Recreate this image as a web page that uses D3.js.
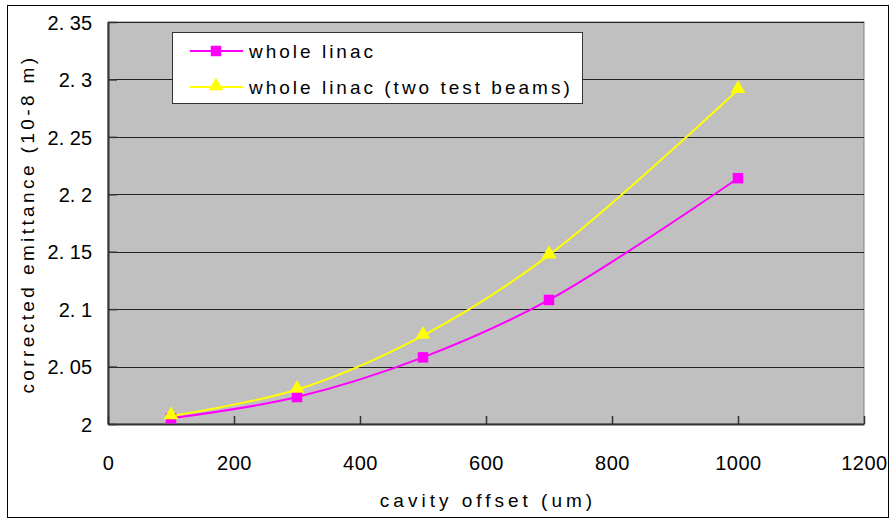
<!DOCTYPE html>
<html>
<head>
<meta charset="utf-8">
<script src="https://cdn.jsdelivr.net/npm/d3@7"></script>
<style>
  html, body { margin: 0; padding: 0; background: #fff; }
  text { font-family: "Liberation Sans", Arial, sans-serif; fill: #000; }
</style>
</head>
<body>
<svg id="chart" width="894" height="522"></svg>
<script>
// Cavity offset (um) and corrected emittance (10^-8 m)
const offsets = [100, 300, 500, 700, 1000];
const wholeLinac = [2.005, 2.0235, 2.058, 2.108, 2.214];
const twoTestBeams = [2.007, 2.030, 2.077, 2.147, 2.291];
const xTicks = [0, 200, 400, 600, 800, 1000, 1200];
const yTicks = [2, 2.05, 2.1, 2.15, 2.2, 2.25, 2.3, 2.35];
const seriesNames = ["whole linac", "whole linac (two test beams)"];

const svg = d3.select("#chart");
const W = 894, H = 522;
const plot = { left: 108, right: 864, top: 22, bottom: 424 };

// outer frame
svg.append("rect").attr("x", 7.5).attr("y", 5.5).attr("width", W - 13).attr("height", H - 10)
  .attr("fill", "#fff").attr("stroke", "#000").attr("stroke-width", 1);

const x = d3.scaleLinear().domain([0, 1200]).range([plot.left, plot.right]);
const y = d3.scaleLinear().domain([2, 2.35]).range([plot.bottom, plot.top]);

// plot background
svg.append("rect").attr("x", plot.left).attr("y", plot.top)
  .attr("width", plot.right - plot.left).attr("height", plot.bottom - plot.top)
  .attr("fill", "#c0c0c0").attr("stroke", "#808080").attr("stroke-width", 1);

// horizontal gridlines
svg.append("g").selectAll("line").data(yTicks.slice(1)).join("line")
  .attr("x1", plot.left).attr("x2", plot.right)
  .attr("y1", d => Math.round(y(d)) + 0.5).attr("y2", d => Math.round(y(d)) + 0.5)
  .attr("stroke", "#222").attr("stroke-width", 1);

// x axis (ticks point into the plot)
const xAxis = svg.append("g").attr("transform", `translate(0,${plot.bottom})`)
  .call(d3.axisBottom(x).tickValues(xTicks).tickSizeInner(-8).tickSizeOuter(0).tickPadding(32).tickFormat(d3.format("d")));
xAxis.select(".domain").attr("stroke", "#333").attr("stroke-width", 2);
xAxis.selectAll(".tick line").attr("stroke", "#333").attr("stroke-width", 1.5);
xAxis.selectAll("text").attr("font-size", 20).attr("font-family", "Liberation Sans, Arial, sans-serif")
  .attr("letter-spacing", "0.5px");

// y axis (ticks point into the plot)
const yAxis = svg.append("g").attr("transform", `translate(${plot.left},0)`)
  .call(d3.axisLeft(y).tickValues(yTicks).tickSizeInner(-9).tickSizeOuter(0).tickPadding(16)
    .tickFormat(d => d3.format("")(+d.toFixed(2)).replace(".", ". ")));
yAxis.select(".domain").attr("stroke", "#333").attr("stroke-width", 2);
yAxis.selectAll(".tick line").attr("stroke", "#333").attr("stroke-width", 1.5);
yAxis.selectAll("text").attr("font-size", 20).attr("font-family", "Liberation Sans, Arial, sans-serif")
  .attr("dy", "0.36em");

// axis titles
svg.append("text").attr("x", 488).attr("y", 507).attr("text-anchor", "middle")
  .attr("font-size", 19).attr("letter-spacing", "4px").text("cavity offset (um)");
svg.append("text").attr("transform", "translate(34,224) rotate(-90)").attr("text-anchor", "middle")
  .attr("font-size", 19).attr("letter-spacing", "3.4px").text("corrected emittance (10-8 m)");

// series lines
const line = d3.line().x(d => x(d[0])).y(d => y(d[1])).curve(d3.curveCatmullRom.alpha(0.5));
const pink = "#ff00ff", yellow = "#ffff00";
const pinkPts = offsets.map((o, i) => [o, wholeLinac[i]]);
const yellowPts = offsets.map((o, i) => [o, twoTestBeams[i]]);

svg.append("path").datum(pinkPts).attr("d", line).attr("fill", "none")
  .attr("stroke", pink).attr("stroke-width", 2);
svg.append("path").datum(yellowPts).attr("d", line).attr("fill", "none")
  .attr("stroke", yellow).attr("stroke-width", 2);

const square = d3.symbol().type(d3.symbolSquare).size(110);
const triangle = d3.symbol().type(d3.symbolTriangle).size(95);

svg.append("g").selectAll("path").data(pinkPts).join("path")
  .attr("d", square).attr("transform", d => `translate(${x(d[0])},${y(d[1])})`).attr("fill", pink);
svg.append("g").selectAll("path").data(yellowPts).join("path")
  .attr("d", triangle).attr("transform", d => `translate(${x(d[0])},${y(d[1]) - 1})`).attr("fill", yellow);

// legend
const lg = svg.append("g");
lg.append("rect").attr("x", 172.5).attr("y", 32.5).attr("width", 410).attr("height", 71)
  .attr("fill", "#fff").attr("stroke", "#333").attr("stroke-width", 1);
const rows = [
  { name: seriesNames[0], color: pink, sym: square, y: 51 },
  { name: seriesNames[1], color: yellow, sym: triangle, y: 87 }
];
rows.forEach(r => {
  lg.append("line").attr("x1", 190).attr("x2", 243).attr("y1", r.y).attr("y2", r.y)
    .attr("stroke", r.color).attr("stroke-width", 2);
  lg.append("path").attr("d", r.sym).attr("transform", `translate(216,${r.y - (r.sym === triangle ? 1 : 0)})`)
    .attr("fill", r.color);
  lg.append("text").attr("x", 249).attr("y", r.y + 7).attr("font-size", 19)
    .attr("letter-spacing", "3px").text(r.name);
});
</script>
</body>
</html>
